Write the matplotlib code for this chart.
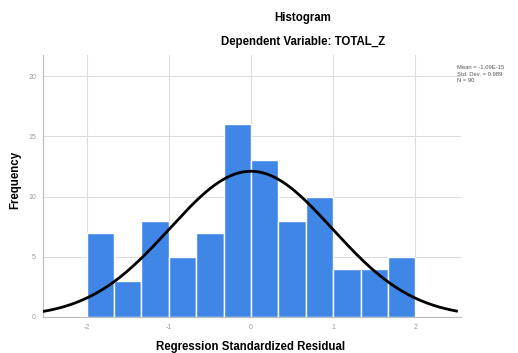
import numpy as np
import matplotlib
matplotlib.use("Agg")
import matplotlib.pyplot as plt

bin_edges = [-2 + i / 3 for i in range(13)]
counts = [7, 3, 8, 5, 7, 16, 13, 8, 10, 4, 4, 5]
mean_val = -1.09e-15
sd_val = 0.989
n_val = 90
xticks = [-2, -1, 0, 1, 2]
yticks = [0, 5, 10, 15, 20]

plt.rcParams['font.family'] = ['Liberation Sans', 'DejaVu Sans']
fig = plt.figure(figsize=(5.18, 3.53), dpi=100)
ax = fig.add_axes([0.083, 0.102, 0.806, 0.742])

widths = np.diff(bin_edges)
ax.bar(bin_edges[:-1], counts, width=widths, align='edge', color='#3f86e6',
       edgecolor='white', linewidth=1.0, zorder=2)

xs = np.linspace(-2.53, 2.5, 400)
bw = widths[0]
ys = n_val * bw * np.exp(-0.5 * ((xs - mean_val) / sd_val) ** 2) / (sd_val * np.sqrt(2 * np.pi))
ax.plot(xs, ys, color='black', lw=2, zorder=3)

ax.set_xlim(-2.53, 2.55)
ax.set_ylim(0, 21.75)
ax.set_xticks(xticks)
ax.set_yticks(yticks)
ax.set_xticklabels([str(t) for t in xticks])
ax.set_yticklabels([str(t) for t in yticks])
ax.tick_params(axis='both', labelsize=5, colors='#999999', length=0, pad=5)
ax.grid(True, color='#dddddd', lw=0.8, zorder=0)
ax.set_axisbelow(True)
for s in ['top', 'right']:
    ax.spines[s].set_visible(False)
for s in ['left', 'bottom']:
    ax.spines[s].set_color('#bbbbbb')
    ax.spines[s].set_linewidth(0.8)

ax.set_xlabel('Regression Standardized Residual', fontsize=8.3, fontweight='bold')
ax.set_ylabel('Frequency', fontsize=8.3, fontweight='bold')
ax.xaxis.set_label_coords(0.496, -0.09)
ax.yaxis.set_label_coords(-0.052, 0.523)

fig.text(303 / 518, 1 - 18 / 353, 'Histogram', ha='center', va='center', fontsize=8.3, fontweight='bold')
fig.text(303 / 518, 1 - 42 / 353, 'Dependent Variable: TOTAL_Z', ha='center', va='center', fontsize=8.3, fontweight='bold')

fig.text(0.882, 0.79, 'Mean = -1.09E-15\nStd. Dev. = 0.989\nN = %d' % n_val,
         ha='left', va='center', fontsize=4.2, color='#555555', linespacing=1.4)

fig.savefig('out.png', dpi=100)
